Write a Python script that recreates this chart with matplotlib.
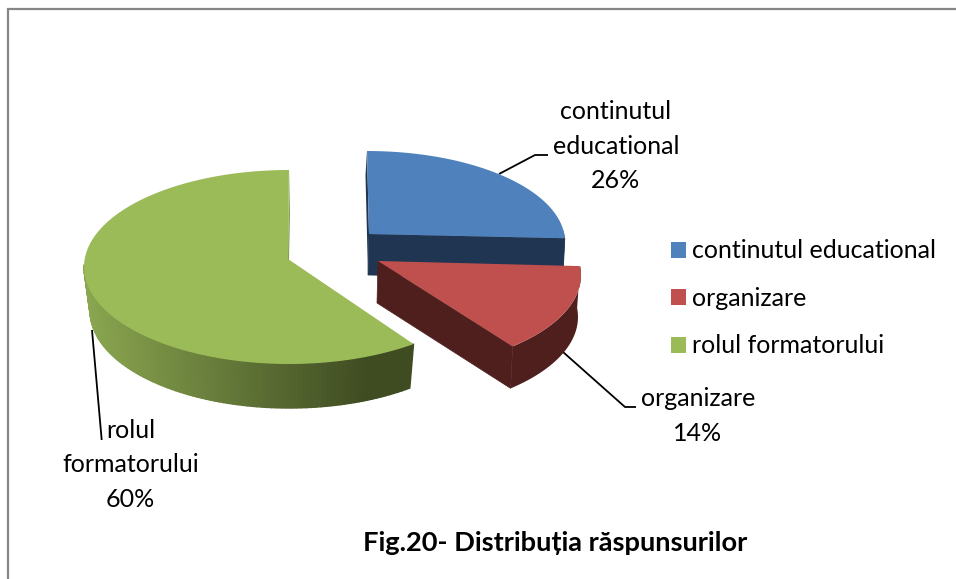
import numpy as np
import matplotlib
matplotlib.use("Agg")
import matplotlib.pyplot as plt
from matplotlib.patches import Patch, Polygon

categories = ["continutul educational", "organizare", "rolul formatorului"]
label_lines = ["continutul\neducational", "organizare", "rolul\nformatorului"]
values = [26, 14, 60]
colors = ["#4F81BD", "#C0504D", "#9BBB59"]
side_colors = ["#1F3552", "#4F1F1D", None]
title = "Fig.20- Distribuția răspunsurilor"

plt.rcParams["font.family"] = ["Lato", "DejaVu Sans"]
FS = 18

# Layout of the exploded 3-D slices, in pixels of the picture
geom = [
    dict(c=(367, 242), apex=(369, 234), rx=198, ry=91, warp=6, depth=41, shrink=0.99),
    dict(c=(380, 275), apex=(378, 261), rx=201, ry=95, warp=9, depth=42, shrink=0.985),
    dict(c=(289, 267), apex=(288, 259), rx=205, ry=97, warp=2.4, depth=44, shrink=0.97),
]

fig = plt.figure(figsize=(9.56, 5.79), dpi=100)
ax = fig.add_axes([0, 0, 1, 1])
ax.set_xlim(0, 956)
ax.set_ylim(579, 0)
ax.axis("off")

# Chart frame: only its top and left edges fall inside the picture
ax.plot([8, 8, 956], [579, 9, 9], color="#868686", lw=1.6, zorder=1, solid_joinstyle="miter")


def top_pt(g, phi):
    th = np.radians(phi + g["warp"] * np.cos(np.radians(phi)))
    return g["c"][0] + g["rx"] * np.cos(th), g["c"][1] - g["ry"] * np.sin(th)


def bot_pt(g, phi):
    th = np.radians(phi + g["warp"] * np.cos(np.radians(phi)))
    s = g["shrink"]
    return g["c"][0] + s * g["rx"] * np.cos(th), g["c"][1] + g["depth"] - g["ry"] * np.sin(th)


def green_side(x):
    t = np.clip((x - 84) / (365 - 84), 0, 1)
    a = np.array([0x8A, 0xA6, 0x50]) / 255
    b = np.array([0x3F, 0x4C, 0x22]) / 255
    return tuple(a + (b - a) * t)


starts = 90 - 3.6 * np.cumsum([0] + values[:-1])
ends = 90 - 3.6 * np.cumsum(values)

for i in [2, 0, 1]:
    g = geom[i]
    start, end = starts[i], ends[i]
    phis = np.linspace(start, end, 160)
    tx, ty = top_pt(g, phis)
    bx, by = bot_pt(g, phis)
    ax_, ay_ = g["apex"]
    d = g["depth"]

    # back cut face sliver
    if i == 0:
        ax.add_patch(Polygon([(tx[0], ty[0]), (ax_, ay_), (ax_ - 1, ay_ + d), (tx[0] - 1.5, ty[0] + d * 0.6)],
                             fc=side_colors[0], ec="none", zorder=2 + i))
    if i == 2:
        ax.add_patch(Polygon([(tx[-1], ty[-1]), (ax_, ay_), (ax_, ay_ + d), (tx[-1] + 1, ty[-1] + d)],
                             fc="#7F9A48", ec="none", zorder=2 + i))

    # outer wall: shaded in strips on the green slice, one flat shape on the others
    vis = phis < 2 if i == 0 else np.sin(np.radians(phis)) < 0.0
    idx = np.where(vis)[0]
    if i == 2:
        for j in idx[:-1]:
            if not vis[j + 1]:
                continue
            col = green_side(0.5 * (tx[j] + tx[j + 1]))
            ax.add_patch(Polygon([(tx[j], ty[j]), (tx[j + 1], ty[j + 1]), (bx[j + 1], by[j + 1]), (bx[j], by[j])],
                                 fc=col, ec=col, lw=1.0, zorder=2 + i))
    else:
        wall = list(zip(tx[idx], ty[idx])) + list(zip(bx[idx][::-1], by[idx][::-1]))
        ax.add_patch(Polygon(wall, fc=side_colors[i], ec="none", zorder=2 + i))

    # straight cut faces that look towards the viewer
    if i in (0, 1):
        p = len(phis) - 1
        ax.add_patch(Polygon([(ax_, ay_), (tx[p], ty[p]), (bx[p], by[p]), (ax_ - 1, ay_ + d)],
                             fc=side_colors[i], ec=side_colors[i], lw=0.5, zorder=2 + i))

    # top surface
    pts = [(ax_, ay_)] + list(zip(tx, ty))
    ax.add_patch(Polygon(pts, fc=colors[i], ec="none", zorder=2.5 + i))

# Leader lines
leaders = [
    [(499, 174), (535, 155), (548, 155)],
    [(563, 352), (625, 407), (636, 407)],
    [(92, 330), (101.7, 440)],
]
for ln in leaders:
    xs, ys = zip(*ln)
    ax.plot(xs, ys, color="black", lw=1.3, zorder=1.5, solid_capstyle="butt")

# Data labels
label_pos = [(616, 146), (698, 416), (130.5, 465)]
for txt, v, (x, y) in zip(label_lines, values, label_pos):
    ax.text(x, y, f"{txt}\n{v}%", ha="center", va="center", fontsize=FS,
            linespacing=1.58, color="black", zorder=9)

handles = [Patch(fc=c, ec="none", label=l) for c, l in zip(colors, categories)]
ax.legend(handles=handles, loc="upper left", bbox_to_anchor=(663 / 956, 1 - 232 / 579),
          frameon=False, fontsize=FS, handlelength=0.6, handleheight=0.6,
          handletextpad=0.25, labelspacing=0.98, borderpad=0.3, borderaxespad=0)

ax.text(555.5, 543, title, ha="center", va="center", fontsize=19.6, fontweight="bold", zorder=9)

fig.savefig("out.png", dpi=100)
